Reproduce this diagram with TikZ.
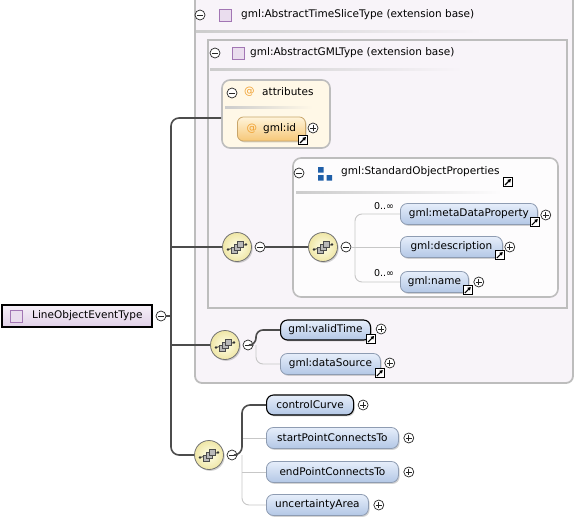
\documentclass[tikz,border=0pt]{standalone}
\usepackage{fontspec}
\setmainfont{DejaVu Sans}
\usetikzlibrary{arrows.meta,shadows}
\definecolor{boxfill}{HTML}{F8F4F9}
\definecolor{boxborder}{HTML}{BDBDBD}
\definecolor{attrfill}{HTML}{FFF8E7}
\definecolor{sopfill}{HTML}{FDFCFD}
\definecolor{elTop}{HTML}{E6EEFA}
\definecolor{elBot}{HTML}{B3C7E6}
\definecolor{elBorder}{HTML}{8E9CB2}
\definecolor{atTop}{HTML}{FFF4DA}
\definecolor{atBot}{HTML}{F6C777}
\definecolor{atBorder}{HTML}{C9A66A}
\definecolor{atcol}{HTML}{F0A030}
\definecolor{seqIn}{HTML}{FFFFEA}
\definecolor{seqOut}{HTML}{EFE6A6}
\definecolor{typeFill}{HTML}{EADDEE}
\definecolor{typeBorder}{HTML}{A276B4}
\definecolor{mainTop}{HTML}{F6F0F8}
\definecolor{mainBot}{HTML}{E0D0E7}
\definecolor{grpblue}{HTML}{1F5FA8}
\newcommand\seqglyph{%
  \draw[line width=0.8pt, black!80] (-9,2.5) -- (9,-2.5);
  \fill[black!80] (-9,2.5) circle (1.4pt) (9,-2.5) circle (1.4pt);
  \foreach \dx/\dy in {-3/3,0/0,3/-3}{
    \draw[fill=gray!55, draw=black!70, line width=0.5pt] (\dx-3,\dy-3) rectangle (\dx+3,\dy+3);}
}
\begin{document}
\begin{tikzpicture}[x=1pt,y=-1pt,
  font=\fontsize{10.5}{12}\selectfont,
  shad/.style={drop shadow={shadow xshift=1.2pt,shadow yshift=-1.4pt,opacity=0.35}},
  elem/.style={rectangle, rounded corners=7pt, top color=elTop, bottom color=elBot,
    draw=elBorder, line width=0.8pt, minimum height=21pt, inner sep=0pt, anchor=west, shad},
  reqelem/.style={elem, draw=black, line width=1.1pt},
  attel/.style={rectangle, rounded corners=6pt, top color=atTop, bottom color=atBot,
    draw=atBorder, line width=0.8pt, minimum height=24pt, inner sep=0pt, anchor=west, shad},
  pm/.style={circle, draw=black!85, fill=white, minimum size=10pt, inner sep=0pt, line width=0.7pt},
  plusc/.style={pm, path picture={\draw[line width=0.7pt]
     ([xshift=-2.7pt]path picture bounding box.center) -- ([xshift=2.7pt]path picture bounding box.center)
     ([yshift=-2.7pt]path picture bounding box.center) -- ([yshift=2.7pt]path picture bounding box.center);}},
  minusc/.style={pm, path picture={\draw[line width=0.7pt]
     ([xshift=-2.7pt]path picture bounding box.center) -- ([xshift=2.7pt]path picture bounding box.center);}},
  linkic/.style={rectangle, draw=black, fill=white, minimum size=9pt, inner sep=0pt, line width=0.8pt,
     path picture={\draw[-{Triangle[length=3.2pt,width=3.6pt]}, line width=1.1pt]
       ([xshift=-3pt,yshift=-3pt]path picture bounding box.center) -- ([xshift=3pt,yshift=3pt]path picture bounding box.center);}},
  seq/.style={circle, minimum size=29pt, inner sep=0pt, draw=black!55, line width=0.8pt,
     inner color=seqIn, outer color=seqOut, shad},
  typeic/.style={rectangle, minimum size=12pt, inner sep=0pt, draw=typeBorder, fill=typeFill, line width=0.8pt},
  container/.style={rectangle, draw=boxborder, line width=1.8pt, fill=boxfill, inner sep=0pt},
  darkline/.style={draw=black!70, line width=1.6pt},
  lightline/.style={draw=black!22, line width=0.9pt},
  hdr/.style={anchor=west, inner sep=0pt},
  card/.style={font=\fontsize{9.5}{11}\selectfont, inner sep=0pt},
]
\useasboundingbox (0,0) rectangle (576,522);
\clip (0,0) rectangle (576,522);

% ---------- containers ----------
\node[container, rounded corners=7pt, minimum width=378pt, minimum height=392pt] (outer) at (384,187) {};
\shade[left color=gray!40, right color=boxfill] (196,30) rectangle (482,32);
\node[minusc] (om) at (200,15) {};
\node[typeic] (ot) at (225,15) {};
\node[hdr] (otx) at (241,15) {gml:AbstractTimeSliceType (extension base)};

\node[container, minimum width=359pt, minimum height=268pt] (inner) at (387.5,174) {};
\shade[left color=gray!40, right color=boxfill] (210,68) rectangle (462,70);
\node[minusc] (im) at (215,53) {};
\node[typeic] (it) at (238,53) {};
\node[hdr] (itx) at (250,53) {gml:AbstractGMLType (extension base)};

\node[container, rounded corners=8pt, fill=attrfill, line width=1.6pt, minimum width=108pt, minimum height=68pt] (attr) at (276,114) {};
\shade[left color=gray!40, right color=attrfill] (225,106) rectangle (312,108);
\node[minusc] (am) at (232,93) {};
\node[hdr, text=atcol] (aat) at (244,92) {@};
\node[hdr] (atx) at (262,92) {attributes};
\node[attel, minimum width=68pt] (gid) at (237,129) {{\color{atcol}@}\hspace{6pt}gml:id};
\node[linkic] (gidl) at (303,140) {};
\node[plusc] (gidp) at (313,128) {};

\node[container, rounded corners=8pt, fill=sopfill, line width=1.6pt, minimum width=265pt, minimum height=139pt] (sop) at (425.5,227.5) {};
\shade[left color=gray!40, right color=sopfill] (296,191) rectangle (502,193);
\node[minusc] (sm) at (299,173) {};
\fill[grpblue] (318,167) rectangle (323.5,172.5) (318,175) rectangle (323.5,180.5) (326.5,175) rectangle (332,180.5);
\node[hdr] (stx) at (341,172) {gml:StandardObjectProperties};
\node[linkic] (sl) at (508,182) {};

% ---------- main node ----------
\node[rectangle, draw=black, line width=1.3pt, top color=mainTop, bottom color=mainBot,
      minimum width=150pt, minimum height=22pt, inner sep=0pt, shad] (main) at (77,316) {};
\node[typeic] (mt) at (16,316) {};
\node[hdr] (mtx) at (32,316) {LineObjectEventType};
\node[minusc] (mm) at (161,316) {};

% ---------- sequences ----------
\node[seq] (s1) at (237,247) {};
\node[minusc] (s1m) at (260,247) {};
\node[seq] (s2) at (323,247) {};
\node[minusc] (s2m) at (346,247) {};
\node[seq] (s3) at (225,345) {};
\node[minusc] (s3m) at (248,345) {};
\node[seq] (s4) at (209,455) {};
\node[minusc] (s4m) at (232,455) {};
\foreach \s in {s1,s2,s3,s4}{\begin{scope}[shift={(\s.center)}]\seqglyph\end{scope}}

% ---------- elements ----------
\node[elem, minimum width=137pt] (mdp) at (400,214) {gml:metaDataProperty};
\node[elem, minimum width=102pt] (desc) at (400,247) {gml:description};
\node[elem, minimum width=68pt] (gname) at (400,282) {gml:name};
\node[linkic] (mdpl) at ([xshift=-3pt,yshift=-8pt]mdp.east) {};
\node[linkic] (descl) at ([xshift=-3pt,yshift=-8pt]desc.east) {};
\node[linkic] (gnamel) at ([xshift=-1pt,yshift=-8pt]gname.east) {};
\node[plusc] (mdpp) at ([xshift=8pt,yshift=-1pt]mdp.east) {};
\node[plusc] (descp) at ([xshift=7pt]desc.east) {};
\node[plusc] (gnamep) at ([xshift=10pt]gname.east) {};
\node[card] (c1) at (384,206) {0..∞};
\node[card] (c2) at (384,273) {0..∞};

\node[reqelem, minimum width=90pt, minimum height=20pt] (vt) at (280,330) {gml:validTime};
\node[elem, minimum width=100pt] (ds) at (280,364) {gml:dataSource};
\node[linkic] (vtl) at ([yshift=-9pt]vt.east) {};
\node[linkic] (dsl) at ([xshift=-1pt,yshift=-9pt]ds.east) {};
\node[plusc] (vtp) at ([xshift=10pt,yshift=1pt]vt.east) {};
\node[plusc] (dsp) at ([xshift=9pt,yshift=1pt]ds.east) {};

\node[reqelem, minimum width=87pt, minimum height=20pt] (cc) at (266,405) {controlCurve};
\node[elem, minimum width=132pt] (sp) at (266,438) {startPointConnectsTo};
\node[elem, minimum width=132pt] (ep) at (266,472) {endPointConnectsTo};
\node[elem, minimum width=102pt] (ua) at (266,505) {uncertaintyArea};
\node[plusc] (ccp) at ([xshift=9pt]cc.east) {};
\node[plusc] (spp) at ([xshift=10pt]sp.east) {};
\node[plusc] (epp) at ([xshift=10pt]ep.east) {};
\node[plusc] (uap) at ([xshift=10pt]ua.east) {};

% ---------- connectors ----------
\coordinate (tA) at (171,118);
\coordinate (tB) at (171,455);
\draw[darkline, rounded corners=8pt] (attr.west |- tA) -- (tA) -- (tB) -- (s4.west);
\draw[darkline] (mm.east) -- (mm.east -| tA);
\draw[darkline] (s1.west -| tA) -- (s1.west);
\draw[darkline] (s3.west -| tA) -- (s3.west);
\draw[darkline] (s1m.east) -- (s2.west);

\coordinate (v2) at (355,247);
\draw[lightline, rounded corners=7pt] (mdp.west) -| (v2) |- (gname.west);
\draw[lightline] (s2m.east) -- (desc.west);

\coordinate (v3) at (256,345);
\draw[lightline, rounded corners=7pt] (v3) |- (ds.west);
\draw[darkline, rounded corners=7pt] (s3m.east) -- (v3) |- (vt.west);

\coordinate (v4) at (242,455);
\draw[lightline] (sp.west -| v4) -- (sp.west);
\draw[lightline] (ep.west -| v4) -- (ep.west);
\draw[lightline, rounded corners=7pt] (v4) |- (ua.west);
\draw[darkline, rounded corners=8pt] (s4m.east) -- (v4) |- (cc.west);
\end{tikzpicture}
\end{document}
